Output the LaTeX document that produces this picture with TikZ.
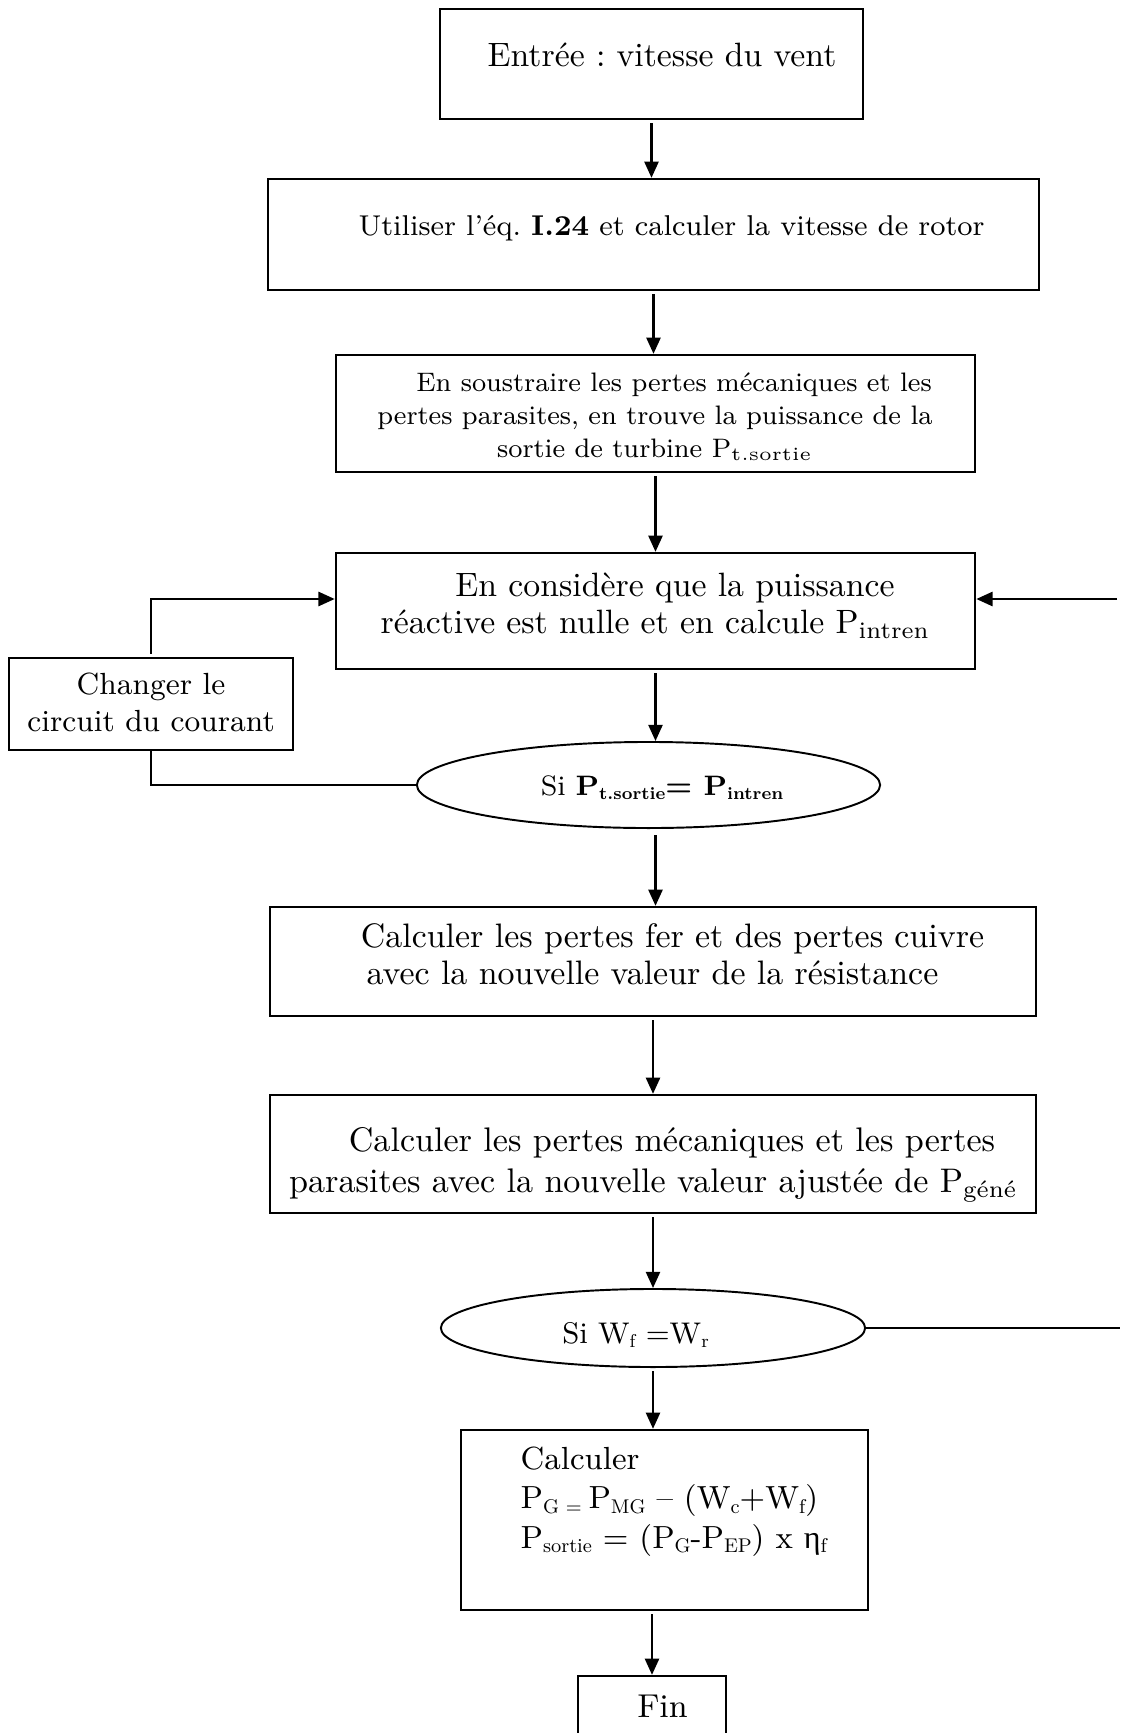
\documentclass[tikz,border=0pt]{standalone}
\usepackage{fontspec}
\usepackage{graphicx}
\newfontfamily\greekface{Liberation Serif}
\usetikzlibrary{arrows.meta,shapes.geometric}
\tikzset{
  frame/.style={draw, line width=0.65pt, inner sep=0pt, rectangle},
  decision/.style={draw, line width=0.55pt, inner sep=0pt, ellipse},
  txt/.style={inner sep=0pt, anchor=base},
  flow/.style={line width=0.65pt, -{Triangle[length=4.6pt,width=4pt]}, shorten <=0.03cm},
  wire/.style={line width=0.65pt},
}
\newcommand{\fs}[2]{\fontsize{#1}{#2}\selectfont}
% small lowered index, scaled from the running size
\newcommand{\lo}[1]{\raisebox{-0.35ex}{\scalebox{0.62}{#1}}}
\frenchspacing
\begin{document}
\begin{tikzpicture}[x=0.01cm, y=-0.01cm]
\useasboundingbox (0,0) rectangle (1120,1733);

% frames of the flow chart
\node[frame, minimum width=4.23cm, minimum height=1.10cm] (b1) at (651.5,64) {};
\node[frame, minimum width=7.71cm, minimum height=1.11cm] (b2) at (653.5,234.5) {};
\node[frame, minimum width=6.39cm, minimum height=1.17cm] (b3) at (655.5,413.5) {};
\node[frame, minimum width=6.39cm, minimum height=1.16cm] (b4) at (655.5,611) {};
\node[frame, minimum width=2.84cm, minimum height=0.92cm] (bc) at (151,704) {};
\node[decision, minimum width=4.63cm, minimum height=0.86cm] (e1) at (648.5,785) {};
\node[frame, minimum width=7.66cm, minimum height=1.09cm] (b5) at (653,961.5) {};
\node[frame, minimum width=7.66cm, minimum height=1.18cm] (b6) at (653,1154) {};
\node[decision, minimum width=4.24cm, minimum height=0.78cm] (e2) at (653,1328) {};
\node[frame, minimum width=4.07cm, minimum height=1.80cm] (b7) at (664.5,1520) {};
\node[frame, minimum width=1.48cm, minimum height=0.84cm] (bf) at (652,1718) {};

% texts (multi-line nodes sit on the baseline of their last line)
\node[txt, font=\fs{9.6}{11}] (t1) at (662,67) {Entrée : vitesse du vent};
\node[txt, font=\fs{8.15}{10}] (t2) at (671.5,235) {Utiliser l’éq. \textbf{I.24} et calculer la vitesse de rotor};
\node[txt, align=center, font=\fs{7.6}{9.25}] (t3) at (655,457)
  {\hspace*{0.38cm}En soustraire les pertes mécaniques et les\\
   pertes parasites, en trouve la puissance de la\\
   sortie de turbine P\textsubscript{t.sortie}};
\node[txt, align=center, font=\fs{9.6}{10.24}] (t4) at (655.5,633)
  {\hspace*{0.39cm}En considère que la puissance\\
   réactive est nulle et en calcule P\textsubscript{intren}};
\node[txt, align=center, font=\fs{8.7}{10.24}] (tc) at (151,731)
  {Changer le\\circuit du courant};
\node[txt, font=\fs{8}{10}] (te1) at (662,795)
  {Si \textbf{P\lo{t.sortie}= P\lo{intren}}};
\node[txt, align=center, font=\fs{9.65}{10.5}] (t5) at (652.5,984)
  {\hspace*{0.40cm}Calculer les pertes fer et des pertes cuivre\\
   avec la nouvelle valeur de la résistance};
\node[txt, align=center, font=\fs{9.7}{11.4}] (t6) at (653.5,1192)
  {\hspace*{0.37cm}Calculer les pertes mécaniques et les pertes\\
   parasites avec la nouvelle valeur ajustée de P\textsubscript{géné}};
\node[txt, font=\fs{8.5}{10}] (te2) at (635.5,1343)
  {Si W\lo{f} =W\lo{r}};
\node[txt, anchor=base west, align=left, font=\fs{9.1}{11.1}] (t7) at (520,1548)
  {Calculer\\
   P\lo{G = }P\lo{MG} – (W\lo{c}+W\lo{f})\\
   P\lo{sortie} = (P\lo{G}-P\lo{EP}) x {\greekface η}\lo{f}};
\node[txt, font=\fs{9.4}{10}] (tf) at (662.5,1717) {Fin};

% main sequence
\draw[flow] (b1.south) -- (b1.south |- b2.north);
\draw[flow] (b2.south) -- (b2.south |- b3.north);
\draw[flow] (b3.south) -- (b3.south |- b4.north);
\draw[flow] (b4.south) -- (b4.south |- e1.north);
\draw[flow, shorten <=0.06cm] (e1.south -| b4.south) -- (b4.south |- b5.north);
\draw[flow] (b5.south) -- (b5.south |- b6.north);
\draw[flow] (b6.south) -- (b6.south |- e2.north);
\draw[flow] (e2.south) -- (e2.south |- b7.north);
\draw[flow] (b7.south -| bf.north) -- (bf.north);

% loop through the current change
\draw[wire] (e1.west) -| (bc.south);
\draw[flow] (bc.north) |- ([yshift=0.12cm]b4.west);

% return branch along the right side
\coordinate (r1) at (1120,1328);
\coordinate (r2) at (1120,599);
\draw[wire] (e2.east) -- (r1);
\draw[flow] (r2) -- (b4.east |- r2);
\end{tikzpicture}
\end{document}
